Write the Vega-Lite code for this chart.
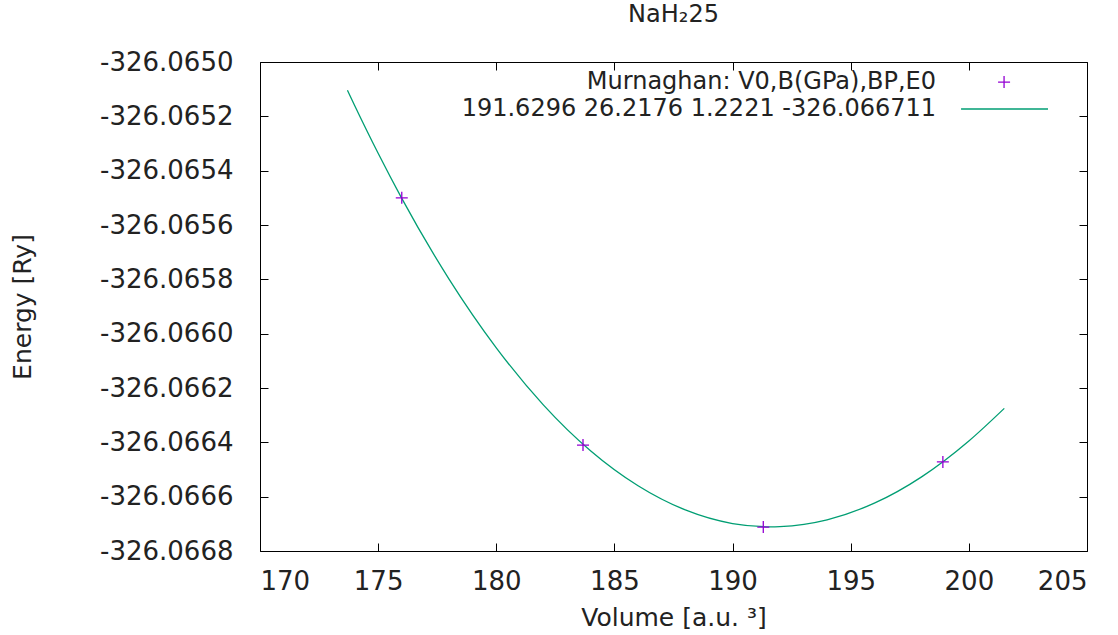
{
  "$schema": "https://vega.github.io/schema/vega-lite/v6.json",
  "width": 827,
  "height": 489,
  "autosize": "none",
  "padding": {"left": 260, "top": 62, "right": 31, "bottom": 84},
  "background": "#ffffff",
  "title": {
    "text": "NaH₂25",
    "font": "DejaVu Sans",
    "fontSize": 24,
    "fontWeight": "normal",
    "color": "#222222",
    "anchor": "middle",
    "offset": 22
  },
  "datasets": {
    "fit": [
      {"V": 173.7, "E": -326.065104},
      {"V": 174, "E": -326.065159},
      {"V": 175, "E": -326.065336},
      {"V": 176, "E": -326.065502},
      {"V": 178, "E": -326.065799},
      {"V": 180, "E": -326.066052},
      {"V": 182, "E": -326.066263},
      {"V": 184, "E": -326.066432},
      {"V": 186, "E": -326.06656},
      {"V": 188, "E": -326.066649},
      {"V": 190, "E": -326.066699},
      {"V": 191.63, "E": -326.066711},
      {"V": 192, "E": -326.06671},
      {"V": 194, "E": -326.066685},
      {"V": 196, "E": -326.066624},
      {"V": 198, "E": -326.066527},
      {"V": 200, "E": -326.066395},
      {"V": 201.5, "E": -326.066275}
    ],
    "points": [
      {"V": 176.0, "E": -326.0655},
      {"V": 183.67, "E": -326.06641},
      {"V": 191.3, "E": -326.066712},
      {"V": 198.9, "E": -326.066472}
    ]
  },
  "layer": [
    {
      "data": {"name": "fit"},
      "mark": {"type": "line", "color": "#009e73", "strokeWidth": 1.3, "interpolate": "monotone"},
      "encoding": {
        "x": {
          "field": "V", "type": "quantitative",
          "scale": {"domain": [170, 205], "nice": false, "zero": false},
          "axis": {
            "orient": "bottom",
            "values": [170, 175, 180, 185, 190, 195, 200, 205],
            "format": "d",
            "tickSize": -8,
            "labelPadding": 25,
            "title": "Volume [a.u. ³]",
            "titleY": 66,
            "titleBaseline": "middle"
          }
        },
        "y": {
          "field": "E", "type": "quantitative",
          "scale": {"domain": [-326.0668, -326.065], "nice": false, "zero": false},
          "axis": {
            "orient": "left",
            "values": [-326.0668, -326.0666, -326.0664, -326.0662, -326.066, -326.0658, -326.0656, -326.0654, -326.0652, -326.065],
            "labelExpr": "replace(format(datum.value, '.4f'), '\u2212', '-')",
            "tickSize": -8,
            "labelPadding": 35,
            "title": "Energy [Ry]",
            "titleX": -238,
            "titleBaseline": "middle"
          }
        }
      }
    },
    {
      "data": {"name": "points"},
      "mark": {"type": "point", "shape": "M-1,0H1M0,-1V1", "filled": false, "stroke": "#9400d3", "strokeWidth": 1.3, "size": 144, "opacity": 1},
      "encoding": {
        "x": {
          "field": "V", "type": "quantitative",
          "axis": {"orient": "top", "values": [170, 175, 180, 185, 190, 195, 200, 205], "labels": false, "tickSize": -8, "title": null}
        },
        "y": {
          "field": "E", "type": "quantitative",
          "axis": {"orient": "right", "values": [-326.0668, -326.0666, -326.0664, -326.0662, -326.066, -326.0658, -326.0656, -326.0654, -326.0652, -326.065], "labels": false, "tickSize": -8, "title": null}
        }
      }
    },
    {
      "data": {"values": [{}]},
      "mark": {"type": "text", "text": "Murnaghan: V0,B(GPa),BP,E0", "align": "right", "baseline": "middle", "font": "DejaVu Sans", "fontSize": 24, "color": "#222222"},
      "encoding": {
        "x": {"datum": 198.61, "type": "quantitative", "axis": null},
        "y": {"datum": -326.065074, "type": "quantitative", "axis": null}
      }
    },
    {
      "data": {"values": [{}]},
      "mark": {"type": "point", "shape": "M-1,0H1M0,-1V1", "filled": false, "stroke": "#9400d3", "strokeWidth": 1.3, "size": 144, "opacity": 1},
      "encoding": {
        "x": {"datum": 201.49, "type": "quantitative", "axis": null},
        "y": {"datum": -326.065074, "type": "quantitative", "axis": null}
      }
    },
    {
      "data": {"values": [{}]},
      "mark": {"type": "text", "text": "191.6296 26.2176 1.2221 -326.066711", "align": "right", "baseline": "middle", "font": "DejaVu Sans", "fontSize": 24, "color": "#222222"},
      "encoding": {
        "x": {"datum": 198.61, "type": "quantitative", "axis": null},
        "y": {"datum": -326.065173, "type": "quantitative", "axis": null}
      }
    },
    {
      "data": {"values": [{}]},
      "mark": {"type": "rule", "color": "#009e73", "strokeWidth": 1.3},
      "encoding": {
        "x": {"datum": 199.67, "type": "quantitative", "axis": null},
        "x2": {"datum": 203.35},
        "y": {"datum": -326.065173, "type": "quantitative", "axis": null}
      }
    }
  ],
  "config": {
    "view": {"stroke": "#000000", "strokeWidth": 1},
    "axis": {
      "grid": false,
      "domain": false,
      "tickColor": "#000000",
      "tickWidth": 1,
      "labelFont": "DejaVu Sans",
      "labelFontSize": 26,
      "labelColor": "#222222",
      "titleFont": "DejaVu Sans",
      "titleFontSize": 25,
      "titleFontWeight": "normal",
      "titleColor": "#222222"
    }
  }
}
